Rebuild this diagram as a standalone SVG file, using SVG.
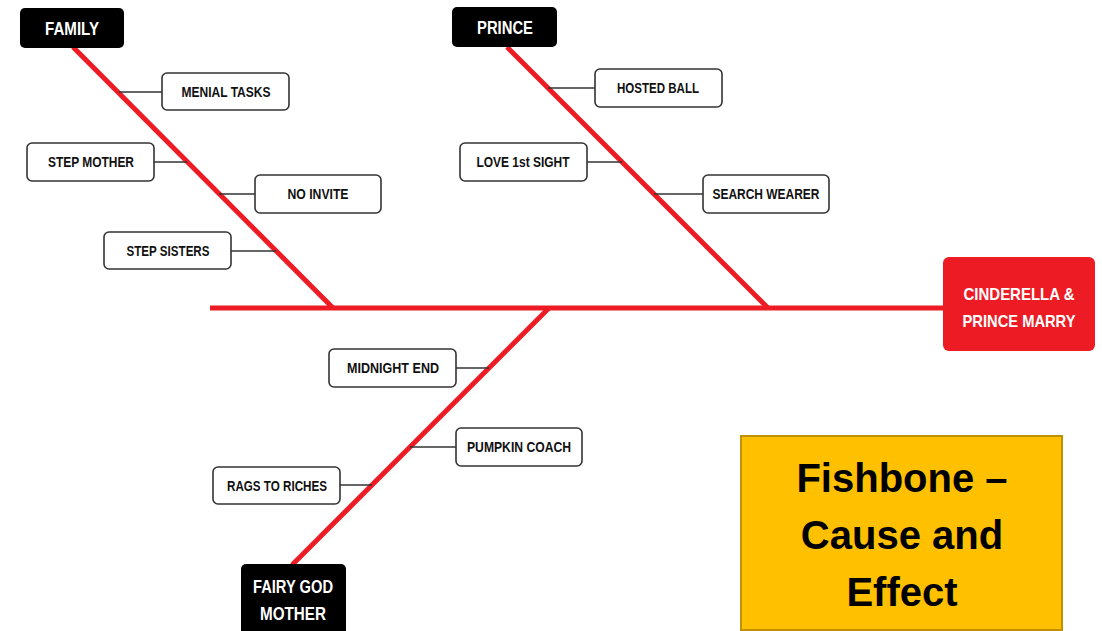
<svg xmlns="http://www.w3.org/2000/svg" width="1102" height="631" viewBox="0 0 1102 631">
<style>
.bone{stroke:#ED1C24;stroke-width:5;fill:none;stroke-linecap:butt}
.conn{stroke:#333;stroke-width:1.5;fill:none}
.box{fill:#fff;stroke:#333;stroke-width:1.6}
.cat{fill:#000}
.t{font-family:"Liberation Sans",Arial,sans-serif;font-weight:bold;font-size:15px;fill:#111;text-anchor:middle}
.w{font-family:"Liberation Sans",Arial,sans-serif;font-weight:bold;font-size:19px;fill:#fff;text-anchor:middle}
.r{font-family:"Liberation Sans",Arial,sans-serif;font-weight:bold;font-size:17px;fill:#fff;text-anchor:middle}
.big{font-family:"Liberation Sans",Arial,sans-serif;font-weight:bold;font-size:40px;fill:#000;text-anchor:middle}
</style>
<rect width="1102" height="631" fill="#fff"/>
<g id="connectors">
<line class="bone" x1="210" y1="308" x2="945" y2="308"/>
<line class="bone" x1="73" y1="47" x2="333" y2="308"/>
<line class="bone" x1="507" y1="47" x2="768" y2="308"/>
<line class="bone" x1="549" y1="308" x2="292" y2="565"/>
<line class="conn" x1="119" y1="92" x2="162" y2="92"/>
<line class="conn" x1="154" y1="162" x2="187" y2="162"/>
<line class="conn" x1="219" y1="194" x2="255" y2="194"/>
<line class="conn" x1="231" y1="251" x2="276" y2="251"/>
<line class="conn" x1="548" y1="88" x2="595" y2="88"/>
<line class="conn" x1="587" y1="162" x2="622" y2="162"/>
<line class="conn" x1="654" y1="194" x2="703" y2="194"/>
<line class="conn" x1="456" y1="368" x2="489" y2="368"/>
<line class="conn" x1="410" y1="447" x2="456" y2="447"/>
<line class="conn" x1="340" y1="485" x2="372" y2="485"/>
</g>
<g id="family"><rect class="cat" x="20" y="8" width="104" height="40" rx="5"/><text class="w" x="72" y="35" textLength="54" lengthAdjust="spacingAndGlyphs">FAMILY</text></g>
<g id="prince"><rect class="cat" x="452" y="7" width="105" height="40" rx="5"/><text class="w" x="505" y="34" textLength="56" lengthAdjust="spacingAndGlyphs">PRINCE</text></g>
<g id="fairy"><rect class="cat" x="241" y="564" width="105" height="80" rx="5"/><text class="w" x="293" y="593" textLength="80" lengthAdjust="spacingAndGlyphs">FAIRY GOD</text><text class="w" x="293" y="620" textLength="66" lengthAdjust="spacingAndGlyphs">MOTHER</text></g>
<g id="effect"><rect x="943" y="257" width="152" height="94" rx="6" fill="#ED1C24"/><text class="r" x="1019" y="300" textLength="111" lengthAdjust="spacingAndGlyphs">CINDERELLA &amp;</text><text class="r" x="1019" y="327" textLength="113" lengthAdjust="spacingAndGlyphs">PRINCE MARRY</text></g>
<g id="menial"><rect class="box" x="162" y="73" width="127" height="37" rx="5"/><text class="t" x="226" y="97" textLength="89" lengthAdjust="spacingAndGlyphs">MENIAL TASKS</text></g>
<g id="stepmother"><rect class="box" x="27" y="143" width="127" height="38" rx="5"/><text class="t" x="91" y="167" textLength="86" lengthAdjust="spacingAndGlyphs">STEP MOTHER</text></g>
<g id="noinvite"><rect class="box" x="255" y="175" width="126" height="38" rx="5"/><text class="t" x="318" y="199" textLength="61" lengthAdjust="spacingAndGlyphs">NO INVITE</text></g>
<g id="stepsisters"><rect class="box" x="104" y="232" width="127" height="37" rx="5"/><text class="t" x="168" y="256" textLength="83" lengthAdjust="spacingAndGlyphs">STEP SISTERS</text></g>
<g id="hosted"><rect class="box" x="595" y="69" width="127" height="38" rx="5"/><text class="t" x="658" y="93" textLength="82" lengthAdjust="spacingAndGlyphs">HOSTED BALL</text></g>
<g id="love"><rect class="box" x="460" y="143" width="127" height="38" rx="5"/><text class="t" x="523" y="167" textLength="93" lengthAdjust="spacingAndGlyphs">LOVE 1st SIGHT</text></g>
<g id="search"><rect class="box" x="703" y="175" width="126" height="38" rx="5"/><text class="t" x="766" y="199" textLength="107" lengthAdjust="spacingAndGlyphs">SEARCH WEARER</text></g>
<g id="midnight"><rect class="box" x="329" y="349" width="127" height="38" rx="5"/><text class="t" x="393" y="373" textLength="92" lengthAdjust="spacingAndGlyphs">MIDNIGHT END</text></g>
<g id="pumpkin"><rect class="box" x="456" y="428" width="126" height="38" rx="5"/><text class="t" x="519" y="452" textLength="104" lengthAdjust="spacingAndGlyphs">PUMPKIN COACH</text></g>
<g id="rags"><rect class="box" x="213" y="467" width="127" height="37" rx="5"/><text class="t" x="277" y="491" textLength="100" lengthAdjust="spacingAndGlyphs">RAGS TO RICHES</text></g>
<g id="title"><rect x="741" y="436" width="321" height="194" fill="#FFC000" stroke="#BF9000" stroke-width="2"/><text class="big" x="902" y="492">Fishbone –</text><text class="big" x="902" y="549">Cause and</text><text class="big" x="902" y="606">Effect</text></g>
</svg>
